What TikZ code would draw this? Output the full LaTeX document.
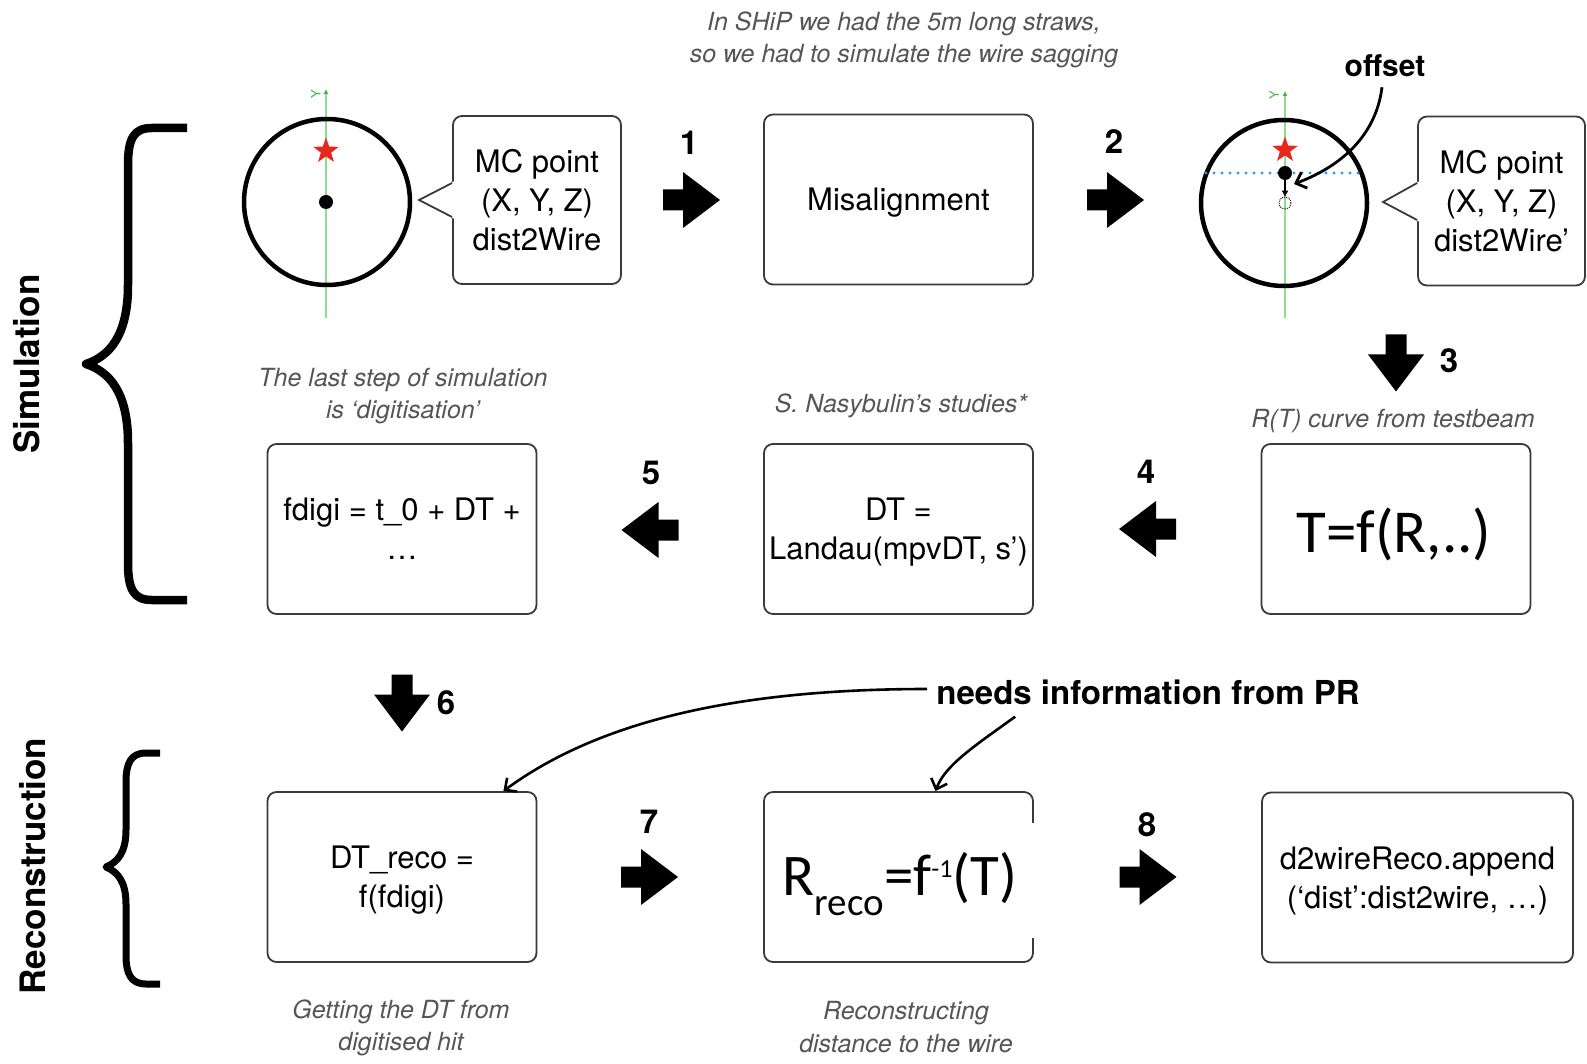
\documentclass[tikz,border=0pt]{standalone}
\usepackage{fontspec}
\setmainfont{TeX Gyre Heros}
\newfontfamily\carlito{Carlito}
\usetikzlibrary{arrows.meta,shapes.geometric,calc}
\definecolor{boxgray}{HTML}{3A3A3A}
\definecolor{capgray}{HTML}{555555}
\definecolor{starred}{HTML}{E8261B}
\definecolor{ygreen}{HTML}{3DB83D}
\definecolor{linegreen}{HTML}{8EDD8E}
\definecolor{dotblue}{HTML}{2E9BE6}
\begin{document}
\begin{tikzpicture}[x=1pt,y=-1pt,
  box/.style={draw=boxgray, line width=1.8pt, rounded corners=9pt, minimum width=269pt, minimum height=170pt, align=center, inner sep=0pt, text depth=0pt, font=\fontsize{31}{39}\selectfont},
  captxt/.style={text=capgray, align=center, inner sep=0pt, font=\itshape\fontsize{25}{32.5}\selectfont},
  numlab/.style={inner sep=0pt, font=\bfseries\fontsize{33}{36}\selectfont},
  sidelab/.style={rotate=90, inner sep=0pt, font=\bfseries\fontsize{35}{40}\selectfont},
  pointerline/.style={draw=boxgray, line width=1.8pt, line join=miter},
  wirecirc/.style={circle, draw=black, line width=4.5pt, minimum size=166pt, inner sep=0pt},
  wiredot/.style={circle, fill=black, inner sep=0pt, minimum size=14pt},
  redstar/.style={star, star points=5, star point ratio=2.5, fill=starred, inner sep=0pt, minimum size=27pt},
  greenaxis/.style={draw=linegreen, line width=1.5pt, -{Latex[length=5pt,width=5pt,color=ygreen]}},
  ylab/.style={text=ygreen, rotate=90, inner sep=0pt, font=\fontsize{13}{13}\selectfont},
  bracepath/.style={line width=8.5pt, line join=round},
  notearrow/.style={line width=2.6pt, -{Straight Barb[length=9pt,width=17pt]}},
  barrow/.pic={\fill[black] (-28.5,-10.5) -- (-8.5,-10.5) -- (-8.5,-28) -- (28.5,0) -- (-8.5,28) -- (-8.5,10.5) -- (-28.5,10.5) -- cycle;}
]
\useasboundingbox (0,0) rectangle (1587,1064);

% ---------- side labels and braces ----------
\node[sidelab] (simlab) at (27,364) {Simulation};
\node[sidelab] (reclab) at (33,866) {Reconstruction};
\draw[bracepath] (187,128) -- (152,128) .. controls (134,128) and (128,138) .. (128,165) -- (128,285) .. controls (128,335) and (110,356) .. (86,364) .. controls (110,372) and (128,393) .. (128,443) -- (128,563) .. controls (128,590) and (134,600) .. (152,600) -- (187,600);
\draw[bracepath, line width=7pt] (160,753) -- (146,753) .. controls (131,753) and (126,763) .. (126,782) -- (126,830) .. controls (126,852) and (118,862) .. (106,867) .. controls (118,872) and (126,882) .. (126,904) -- (126,955) .. controls (126,974) and (131,984) .. (146,984) -- (160,984);

% ---------- captions ----------
\node[captxt] (capship) at (904,40) {In SHiP we had the 5m long straws,\\so we had to simulate the wire sagging};
\node[captxt] (caplast) at (403,396) {The last step of simulation\\is ‘digitisation’};
\node[captxt] (capnas) at (901,406) {S. Nasybulin’s studies*};
\node[captxt] (caprt) at (1393,421) {R(T) curve from testbeam};
\node[captxt] (capget) at (401,1028) {Getting the DT from\\digitised hit};
\node[captxt] (caprec) at (906,1027) {Reconstructing\\distance to the wire};

% ---------- row 1 ----------
\draw[greenaxis] (326,318) -- (326,89);
\node[ylab] (y1) at (316,94) {Y};
\node[wirecirc] (w1) at (327,202) {};
\node[redstar] (st1) at (326,151) {};
\node[wiredot] (d1) at (326,202) {};

\node[box, minimum width=168pt, minimum height=168pt] (c1) at (537,200) {MC point\\(X, Y, Z)\\dist2Wire};
\coordinate (p1) at (419,200);
\fill[white] ($(c1.west)+(2.5,-19)$) -- (p1) -- ($(c1.west)+(2.5,19)$) -- cycle;
\draw[pointerline] ($(c1.west)+(0,-17)$) -- (p1) -- ($(c1.west)+(0,17)$);

\pic at (691.5,200) {barrow};
\node[numlab] (n1) at (689,143) {1};

\node[box] (mis) at (898.5,199.5) {Misalignment};

\pic at (1115.5,200) {barrow};
\node[numlab] (n2) at (1114,142) {2};

\draw[greenaxis] (1285,318) -- (1285,91);
\node[ylab] (y2) at (1274,95) {Y};
\node[wirecirc] (w2) at (1284,203) {};
\draw[dotblue, line width=3.2pt, line cap=round, dash pattern=on 0pt off 8pt] (1206,173) -- (1362,173);
\node[redstar] (st2) at (1285,150) {};
\node[wiredot] (d2) at (1285,173) {};
\node[circle, draw=black, densely dotted, line width=0.9pt, minimum size=12pt, inner sep=0pt] (ghost) at (1285,203) {};
\draw[line width=1.2pt, -{Triangle[length=6pt,width=6pt]}] (d2) -- (ghost.north);

\node[box, minimum width=167pt, minimum height=169pt] (c2) at (1501.5,201) {MC point\\(X, Y, Z)\\dist2Wire’};
\coordinate (p2) at (1383,202);
\fill[white] ($(c2.west)+(2.5,-20)$) -- (p2) -- ($(c2.west)+(2.5,21)$) -- cycle;
\draw[pointerline] ($(c2.west)+(0,-18)$) -- (p2) -- ($(c2.west)+(0,19)$);

\node[inner sep=0pt, font=\bfseries\fontsize{30}{34}\selectfont] (offset) at (1385,66) {offset};
\draw[notearrow, line width=2.8pt] ($(offset.south)+(-3,10)$) .. controls (1376,135) and (1342,166) .. ($(d2)+(9,11)$);

% ---------- row 2 ----------
\pic[rotate=-90] at (1396,363) {barrow};
\node[numlab] (n3) at (1449,361) {3};

\node[box] (tf) at (1396,529) {};
\node[anchor=base, inner sep=0pt, font=\carlito\fontsize{61}{64}\selectfont] (tftext) at (1394,552) {T=f(R,..)};

\pic[rotate=180] at (1147.5,529) {barrow};
\node[numlab] (n4) at (1146,472) {4};

\node[box] (dt) at (898.5,529) {DT =\\Landau(mpvDT, s’)};

\pic[rotate=180] at (650,530) {barrow};
\node[numlab] (n5) at (651,473) {5};

\node[box, text depth=-5pt] (fdigi) at (402,529) {fdigi = t\_0 + DT +\\…};

% ---------- row 3 ----------
\pic[rotate=-90] at (402,703) {barrow};
\node[numlab] (n6) at (446,703) {6};

\node[box] (dtreco) at (402,877) {DT\_reco =\\f(fdigi)};

\pic at (649.5,877) {barrow};
\node[numlab] (n7) at (649,822) {7};

\node[box] (rreco) at (898.5,877) {};
\fill[white] (1029,823) rectangle (1037,938);
\node[anchor=base, inner sep=0pt, font=\carlito\fontsize{59}{62}\selectfont] (rtext) at (900,895) {R\raisebox{-20pt}{\fontsize{39}{40}\selectfont reco}=f\raisebox{18pt}{\fontsize{26}{27}\selectfont -1}(T)};

\pic at (1148,877) {barrow};
\node[numlab] (n8) at (1147,825) {8};

\node[box, minimum width=311pt] (d2w) at (1417.5,877.5) {d2wireReco.append\\(‘dist’:dist2wire, …)};

% ---------- needs information ----------
\node[inner sep=0pt, font=\bfseries\fontsize{33}{36}\selectfont] (needs) at (1148,692) {needs information from PR};
\draw[notearrow] ($(needs.west)+(-9,-3)$) .. controls (740,689) and (600,720) .. ([xshift=-34pt]dtreco.north east);
\draw[notearrow] ($(needs.south west)+(79,12)$) .. controls (976,745) and (945,765) .. ([xshift=37pt]rreco.north);
\end{tikzpicture}
\end{document}
